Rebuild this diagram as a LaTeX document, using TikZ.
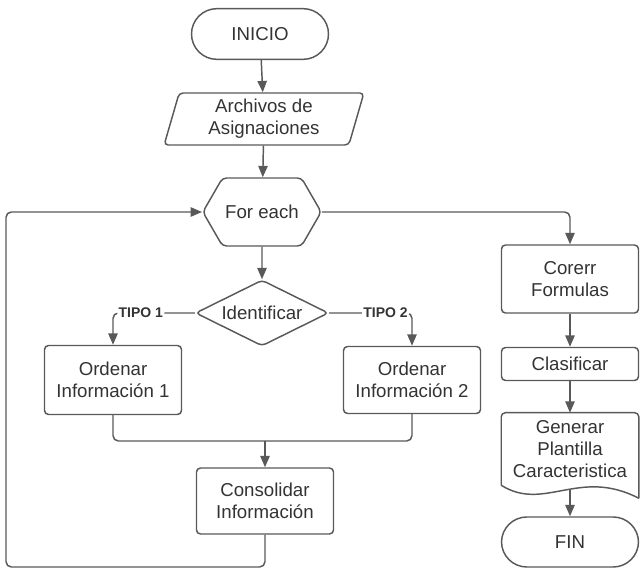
\documentclass[tikz,border=0pt]{standalone}
\usepackage{fontspec}
\setmainfont{Liberation Sans}
\usetikzlibrary{arrows.meta,shapes.geometric,shapes.symbols,calc}
\definecolor{trazo}{HTML}{595959}
\definecolor{texto}{HTML}{333333}
\begin{document}
\begin{tikzpicture}[x=0.75pt,y=-0.75pt,
  caja/.style={draw=trazo,line width=1.1pt,rounded corners=3pt,text=texto,align=center,
    font=\fontsize{14}{16.5}\selectfont,minimum width=102.75pt,inner sep=2pt},
  terminal/.style={caja,rounded corners=19pt,minimum height=38pt},
  linea/.style={draw=trazo,line width=1.1pt,rounded corners=4pt},
  flecha/.style={linea,-{Triangle[length=8.5pt,width=7pt]}},
  tipo/.style={fill=white,text=texto,inner sep=1pt,font=\bfseries\fontsize{10.5}{12}\selectfont}]
\useasboundingbox (0,0) rectangle (640,570);
\node[terminal] (inicio) at (260,34) {INICIO};
\node[caja,trapezium,trapezium left angle=77,trapezium right angle=103,trapezium stretches=true,
  minimum width=150pt,minimum height=39pt] (archivos) at (264,119) {Archivos de\\Asignaciones};
\node[caja,signal,signal to=west and east,signal pointer angle=120,minimum width=87.75pt,
  minimum height=51pt] (paracada) at (262,212) {For each};
\node[caja,diamond,minimum width=99.75pt,minimum height=49.5pt,aspect=2,inner sep=1pt] (identificar) at (262,313) {Identificar};
\node[caja,minimum height=51.75pt] (orden1) at (113,380) {Ordenar\\Información 1};
\node[caja,minimum height=50.25pt] (orden2) at (412,380) {Ordenar\\Información 2};
\node[caja,minimum height=49.5pt] (consolidar) at (265,501) {Consolidar\\Información};
\node[caja,minimum height=51pt] (corerr) at (570,279) {Corerr\\Formulas};
\node[caja,minimum height=24.75pt] (clasificar) at (570,364) {Clasificar};
\node[text=texto,align=center,font=\fontsize{14}{16.5}\selectfont,minimum width=102.75pt,
  minimum height=54pt,inner sep=2pt] (plantilla) at (570,449) {Generar\\Plantilla\\Caracteristica};
\node[terminal,minimum height=37.5pt] (fin) at (570,542) {FIN};
% documento con borde ondulado
\draw[linea,rounded corners=3pt] ($(plantilla.south east)+(0,13)$) -- (plantilla.north east)
  -- (plantilla.north west) -- (plantilla.south west);
\draw[linea] (plantilla.south west) .. controls ($(plantilla.south west)+(43,27)$)
  and ($(plantilla.south west)+(78,-18)$) .. ($(plantilla.south east)+(0,13)$);
\coordinate (ola) at ($(plantilla.south)+(0,5)$);
\coordinate (union) at (265,441);
\coordinate (retorno) at (6,567);
% conectores
\draw[flecha] (inicio) -- (archivos);
\draw[flecha] (archivos) -- (paracada);
\draw[flecha] (paracada) -- (identificar);
\draw[flecha] (identificar.west) -| node[tipo,pos=0.33] {TIPO 1} (orden1.north);
\draw[flecha] (identificar.east) -| node[tipo,pos=0.34] {TIPO 2} (orden2.north);
\draw[linea] (orden1.south) |- (union);
\draw[linea] (orden2.south) |- (union);
\draw[flecha] (union) -- (consolidar.north);
\draw[flecha] (consolidar.south) |- (retorno) |- (paracada.west);
\draw[flecha] (paracada.east) -| (corerr.north);
\draw[flecha] (corerr) -- (clasificar);
\draw[flecha] (clasificar) -- (plantilla.north);
\draw[flecha] (ola) -- (fin);
\end{tikzpicture}
\end{document}
